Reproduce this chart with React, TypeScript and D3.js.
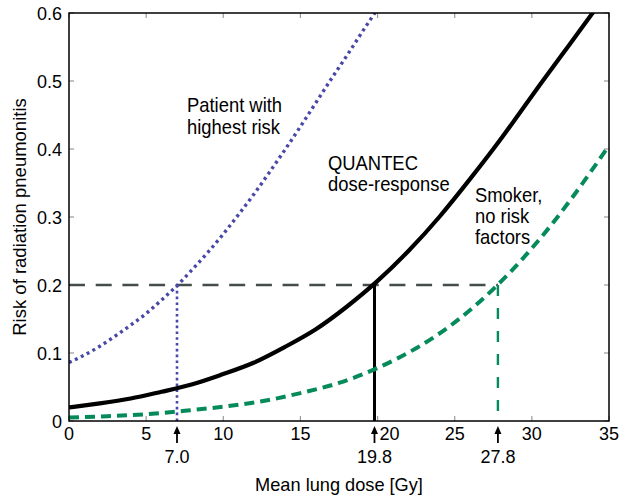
import React from 'react';
import * as d3 from 'd3';

// QUANTEC dose-response
const quantecDose = [0, 2, 4, 6, 8, 10, 12, 14, 16, 18, 20, 22, 24, 26, 28, 30, 32, 34, 35];
const quantecRisk = [0.020, 0.026, 0.033, 0.043, 0.054, 0.069, 0.086, 0.109, 0.135, 0.168, 0.206, 0.250, 0.300, 0.356, 0.415, 0.478, 0.540, 0.602, 0.632];

// patient with highest risk
const highDose = [0, 1, 2, 3, 4, 5, 6, 7, 8, 9, 10, 11, 12, 13, 14, 15, 16, 17, 18, 19, 20];
const highRisk = [0.086, 0.097, 0.110, 0.125, 0.141, 0.158, 0.178, 0.199, 0.223, 0.248, 0.275, 0.304, 0.334, 0.366, 0.399, 0.433, 0.468, 0.503, 0.537, 0.572, 0.606];

// smoker, no risk factors
const smokerDose = [0, 2.5, 5, 7.5, 10, 12.5, 15, 17.5, 20, 22.5, 25, 27.5, 30, 32.5, 35];
const smokerRisk = [0.005, 0.007, 0.010, 0.015, 0.021, 0.029, 0.041, 0.056, 0.078, 0.107, 0.145, 0.194, 0.254, 0.325, 0.405];

const xTicks = [0, 5, 10, 15, 20, 25, 30, 35];
const yTicks = [0, 0.1, 0.2, 0.3, 0.4, 0.5, 0.6];
const markedDoses = [7.0, 19.8, 27.8];
const targetRisk = 0.2;

const margin = { top: 13, right: 10, bottom: 77, left: 69 };
const W = 619;
const H = 498;

// annotation text: [x, baseline y, text]
const notes: [number, number, string][] = [
  [187, 112, 'Patient with'],
  [187, 134, 'highest risk'],
  [328, 170, 'QUANTEC'],
  [328, 191, 'dose-response'],
  [475, 202, 'Smoker,'],
  [475, 223, 'no risk'],
  [475, 244, 'factors'],
];

const App: React.FC = () => {
  const x = d3.scaleLinear().domain([0, 35]).range([margin.left, W - margin.right]);
  const y = d3.scaleLinear().domain([0, 0.6]).range([H - margin.bottom, margin.top]);

  const line = d3.line<[number, number]>()
    .x(d => x(d[0]))
    .y(d => y(d[1]))
    .curve(d3.curveNatural);

  const zip = (a: number[], b: number[]) => a.map((v, i) => [v, b[i]] as [number, number]);

  const font = "'Liberation Sans', Arial, Helvetica, sans-serif";
  const purple = '#4848a8';
  const green = '#058a5a';
  const x0 = x(0), x1 = x(35), y0 = y(0), y1 = y(0.6);

  return (
    <svg width={W} height={H} style={{ position: 'absolute', left: 0, top: 0 }} fontFamily={font}>
      <defs>
        <clipPath id="plot">
          <rect x={x0} y={y1} width={x1 - x0} height={y0 - y1} />
        </clipPath>
      </defs>

      {/* ticks, inward on all sides */}
      <g stroke="#999" strokeWidth={1.2}>
        {xTicks.map(t => (
          <g key={'xt' + t}>
            <line x1={x(t)} x2={x(t)} y1={y0} y2={y0 - 5} />
            <line x1={x(t)} x2={x(t)} y1={y1} y2={y1 + 5} />
          </g>
        ))}
        {yTicks.map(t => (
          <g key={'yt' + t}>
            <line x1={x0} x2={x0 + 5} y1={y(t)} y2={y(t)} />
            <line x1={x1} x2={x1 - 5} y1={y(t)} y2={y(t)} />
          </g>
        ))}
      </g>

      <g clipPath="url(#plot)" fill="none">
        {/* reference lines */}
        <line x1={x0} x2={x(27.8)} y1={y(targetRisk)} y2={y(targetRisk)}
          stroke="#454c4c" strokeWidth={2.6} strokeDasharray="16 10.7" />
        <line x1={x(7.0)} x2={x(7.0)} y1={y(targetRisk)} y2={y0}
          stroke={purple} strokeWidth={2.6} strokeDasharray="2.6 3.2" />
        <line x1={x(19.8)} x2={x(19.8)} y1={y(targetRisk)} y2={y0}
          stroke="#000" strokeWidth={3} />
        <line x1={x(27.8)} x2={x(27.8)} y1={y(targetRisk)} y2={y0}
          stroke={green} strokeWidth={2.4} strokeDasharray="11 12" />

        <path d={line(zip(highDose, highRisk)) || ''} stroke={purple} strokeWidth={3.4} strokeDasharray="3 3.6" />
        <path d={line(zip(smokerDose, smokerRisk)) || ''} stroke={green} strokeWidth={4} strokeDasharray="10 6" />
        <path d={line(zip(quantecDose, quantecRisk)) || ''} stroke="#000" strokeWidth={4.2} />
      </g>

      <rect x={x0} y={y1} width={x1 - x0} height={y0 - y1} fill="none" stroke="#000" strokeWidth={1.5} />

      {/* tick labels; "20" nudged right to clear the 19.8 arrow */}
      <g fontSize={18} fill="#000">
        {xTicks.map(t => (
          <text key={'xl' + t} x={x(t) + (t === 20 ? 12 : 0)} y={y0 + 19} textAnchor="middle">{t}</text>
        ))}
        {yTicks.map(t => (
          <text key={'yl' + t} x={x0 - 7} y={y(t) + 7} textAnchor="end">{t === 0 ? '0' : t.toFixed(1)}</text>
        ))}
      </g>

      {/* marked doses */}
      {markedDoses.map(d => (
        <g key={'m' + d}>
          <line x1={x(d)} x2={x(d)} y1={y0 + 22} y2={y0 + 9} stroke="#000" strokeWidth={1.8} />
          <path d={`M${x(d) - 3.5},${y0 + 13} L${x(d)},${y0 + 5} L${x(d) + 3.5},${y0 + 13} Z`} fill="#000" />
          <text x={x(d)} y={y0 + 42} textAnchor="middle" fontSize={18} fill="#000">{d.toFixed(1)}</text>
        </g>
      ))}

      {/* annotations */}
      <g fontSize={18.4} fill="#000">
        {notes.map(([nx, ny, s]) => (
          <text key={s} transform={`translate(${nx},${ny}) scale(1,1.08)`}>{s}</text>
        ))}
      </g>

      <text x={(x0 + x1) / 2} y={491} textAnchor="middle" fontSize={18.2} fill="#000">Mean lung dose [Gy]</text>
      <text transform={`translate(26,${(y0 + y1) / 2}) rotate(-90)`} textAnchor="middle" fontSize={18.5} fill="#000">
        Risk of radiation pneumonitis
      </text>
    </svg>
  );
};

export default App;
